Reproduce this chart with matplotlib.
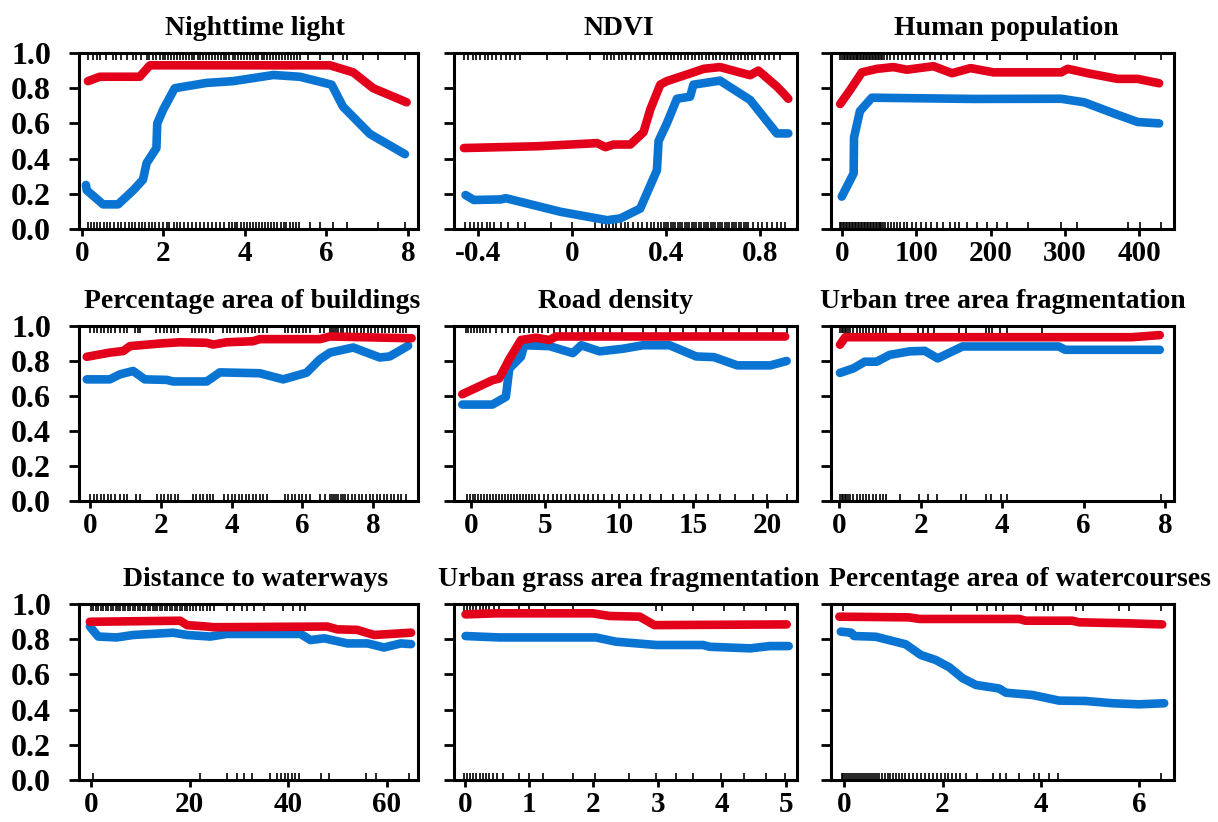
import matplotlib
matplotlib.use("Agg")
import matplotlib.pyplot as plt

plt.rcParams['font.family'] = ['Liberation Serif', 'DejaVu Serif']
plt.rcParams['font.weight'] = 'bold'

RED = '#E3001A'
BLUE = '#0A74D3'

titles = ["Nighttime light", "NDVI", "Human population",
          "Percentage area of buildings", "Road density", "Urban tree area fragmentation",
          "Distance to waterways", "Urban grass area fragmentation", "Percentage area of watercourses"]
title_x = [0.52, 0.48, 0.51, 0.51, 0.47, 0.5, 0.52, 0.51, 0.55]

# ---- Panel 1: Nighttime light
p1_red_x = [0.15, 0.44, 1.42, 1.67, 6.09, 6.66, 7.15, 7.97]
p1_red_y = [0.84, 0.865, 0.865, 0.93, 0.93, 0.89, 0.80, 0.72]
p1_blue_x = [0.1, 0.12, 0.52, 0.89, 1.26, 1.5, 1.59, 1.83, 1.85, 2.0, 2.28, 3.06, 3.71, 4.7, 5.35, 6.13, 6.41, 7.07, 7.93]
p1_blue_y = [0.25, 0.22, 0.14, 0.14, 0.22, 0.28, 0.375, 0.46, 0.60, 0.68, 0.80, 0.83, 0.84, 0.875, 0.865, 0.82, 0.695, 0.54, 0.425]
p1_rug_top = [0.16, 0.28, 0.36, 0.44, 0.6, 0.77, 0.85, 0.97, 1.1, 1.26, 1.34, 1.46, 1.59, 1.66, 1.75, 1.82, 1.91, 1.98,
              2.05, 2.12, 2.2, 2.27, 2.33, 2.41, 2.48, 2.55, 2.63, 2.7, 2.76, 2.84, 2.91, 2.97, 3.05, 3.12, 3.2, 3.26,
              3.33, 3.41, 3.48, 3.55, 3.62, 3.7, 3.77, 3.83, 3.91, 3.98, 4.05, 4.12, 4.2, 4.27, 4.33, 4.41, 4.48, 4.55,
              4.62, 4.7, 4.77, 4.84, 4.91, 4.98, 5.06, 5.13, 5.2, 5.27, 5.35, 5.55, 5.84, 6.17, 6.41, 6.5, 6.9, 7.27, 7.92]
p1_rug_bot = [0.15, 0.22, 0.3, 0.38, 0.45, 0.55, 0.62, 0.7, 0.8, 0.88, 0.97, 1.05, 1.15, 1.22, 1.3, 1.4, 1.48, 1.55,
              1.65, 1.72, 1.8, 1.9, 1.98, 2.08, 2.15, 2.25, 2.33, 2.42, 2.5, 2.6, 2.7, 2.8, 2.9, 3.0, 3.1, 3.2, 3.3,
              3.4, 3.5, 3.6, 3.68, 3.75, 3.82, 3.9, 3.97, 4.05, 4.12, 4.2, 4.27, 4.35, 4.42, 4.5, 4.57, 4.65, 4.72,
              4.8, 4.88, 4.95, 5.02, 5.1, 5.18, 5.25, 5.33, 5.6, 5.84, 6.17, 6.5, 7.27, 7.92]

# ---- Panel 2: NDVI
p2_red_x = [-0.458, -0.147, 0.108, 0.143, 0.178, 0.249, 0.305, 0.334, 0.376, 0.404, 0.517, 0.56, 0.63, 0.758, 0.793, 0.871, 0.90, 0.92]
p2_red_y = [0.46, 0.47, 0.488, 0.465, 0.48, 0.48, 0.55, 0.68, 0.82, 0.84, 0.89, 0.91, 0.92, 0.874, 0.90, 0.81, 0.77, 0.74]
p2_blue_x = [-0.451, -0.416, -0.302, -0.28, -0.048, 0.15, 0.206, 0.291, 0.362, 0.369, 0.404, 0.447, 0.503, 0.517, 0.63, 0.758, 0.871, 0.92]
p2_blue_y = [0.193, 0.165, 0.168, 0.175, 0.098, 0.05, 0.06, 0.116, 0.334, 0.50, 0.60, 0.74, 0.752, 0.82, 0.843, 0.733, 0.543, 0.543]
p2_rug_top = [-0.458, -0.44, -0.42, -0.405, -0.39, -0.37, -0.355, -0.34, -0.32, -0.3, -0.28, -0.26, -0.24, -0.218,
              -0.104, -0.02, 0.079, 0.136, 0.15, 0.165, 0.18, 0.2, 0.215, 0.23, 0.25, 0.27, 0.29, 0.305, 0.33, 0.345,
              0.36, 0.375, 0.39, 0.405, 0.42, 0.435, 0.45, 0.465, 0.48, 0.495, 0.51, 0.525, 0.54, 0.555, 0.57, 0.585,
              0.6, 0.615, 0.63, 0.645, 0.66, 0.675, 0.69, 0.705, 0.72, 0.735, 0.75, 0.765, 0.78, 0.8, 0.82, 0.84, 0.86, 0.885]
p2_rug_bot = [-0.455, -0.43, -0.415, -0.4, -0.38, -0.36, -0.345, -0.33, -0.3, -0.27, -0.23, -0.2, -0.09, 0.0, 0.1,
              0.13, 0.145, 0.16, 0.175, 0.19, 0.21, 0.225, 0.24, 0.26, 0.28, 0.3, 0.32, 0.335, 0.35, 0.365, 0.38, 0.39,
              0.4, 0.41, 0.42, 0.43, 0.44, 0.45, 0.46, 0.47, 0.48, 0.49, 0.5, 0.51, 0.52, 0.53, 0.54, 0.55, 0.56, 0.57,
              0.58, 0.59, 0.6, 0.61, 0.62, 0.63, 0.64, 0.65, 0.66, 0.67, 0.68, 0.69, 0.7, 0.71, 0.72, 0.73, 0.74, 0.75,
              0.77, 0.79, 0.81, 0.83, 0.85, 0.87, 0.89, 0.905]

# ---- Panel 3: Human population
p3_red_x = [-2.7, 10.8, 26.6, 47, 69, 87, 123, 148, 173, 204, 295, 304, 331, 371, 398, 427]
p3_red_y = [0.71, 0.79, 0.89, 0.91, 0.92, 0.905, 0.925, 0.885, 0.914, 0.89, 0.89, 0.91, 0.885, 0.853, 0.853, 0.828]
p3_blue_x = [-0.5, 15.5, 16.0, 24, 40, 177, 295, 326, 367, 398, 427]
p3_blue_y = [0.184, 0.316, 0.52, 0.67, 0.746, 0.739, 0.74, 0.72, 0.655, 0.608, 0.60]
p3_rug_top = [-3, 0, 2, 4, 6, 8, 10, 12, 14, 16, 18, 20, 22, 24, 26, 28, 30, 32, 34, 36, 38, 40, 42, 44, 46, 48, 50,
              52, 54, 56, 60, 64, 70, 75, 80, 86, 92, 98, 104, 110, 118, 125, 133, 141, 150, 164, 177, 195, 213, 249,
              295, 312, 316, 340, 394, 430]
p3_rug_bot = [-3, -1, 1, 3, 5, 7, 9, 11, 13, 15, 17, 19, 21, 23, 25, 27, 29, 31, 33, 35, 37, 39, 41, 43, 45, 47, 49,
              51, 53, 55, 58, 62, 66, 70, 74, 78, 83, 88, 94, 100, 106, 113, 120, 128, 136, 145, 152, 158, 168, 182,
              195, 208, 222, 250, 295, 317, 385, 401, 430]

# ---- Panel 4: Percentage area of buildings
p4_red_x = [-0.09, 0.56, 0.94, 1.13, 1.98, 2.54, 3.3, 3.48, 3.86, 4.61, 4.8, 6.5, 6.78, 9.09]
p4_red_y = [0.824, 0.848, 0.857, 0.885, 0.90, 0.907, 0.904, 0.894, 0.907, 0.913, 0.925, 0.925, 0.94, 0.93]
p4_blue_x = [-0.09, 0.56, 0.85, 1.22, 1.55, 2.17, 2.35, 3.3, 3.67, 4.8, 5.46, 6.12, 6.5, 6.78, 7.44, 8.19, 8.47, 8.99]
p4_blue_y = [0.695, 0.695, 0.724, 0.743, 0.695, 0.692, 0.683, 0.683, 0.735, 0.73, 0.695, 0.733, 0.81, 0.848, 0.877, 0.82, 0.826, 0.887]
p4_rug_top = [0.0, 0.1, 0.2, 0.3, 0.4, 0.5, 0.6, 0.7, 0.85, 0.95, 1.04, 1.27, 1.35, 1.41, 1.88, 1.98, 2.08, 2.18,
              2.28, 2.38, 2.5, 2.87, 2.97, 3.07, 3.17, 3.27, 3.38, 3.49, 3.77, 3.87, 3.97, 4.07, 4.17, 4.27, 4.37,
              4.47, 4.57, 4.67, 4.77, 4.89, 4.99, 5.51, 5.61, 5.71, 5.81, 5.91, 6.01, 6.11, 6.21, 6.5, 6.6, 6.78,
              6.84, 6.9, 6.96, 7.02, 7.08, 7.15, 7.25, 7.35, 7.45, 7.55, 7.65, 7.75, 7.85, 7.95, 8.05, 8.15, 8.25,
              8.35, 8.45, 8.55, 8.65, 8.75, 8.85, 8.94]
p4_rug_bot = [0.0, 0.1, 0.2, 0.3, 0.4, 0.5, 0.6, 0.72, 0.85, 0.95, 1.04, 1.3, 1.41, 1.9, 2.0, 2.1, 2.2, 2.3, 2.4,
              2.5, 2.9, 3.0, 3.1, 3.2, 3.3, 3.4, 3.49, 3.8, 3.9, 4.0, 4.1, 4.2, 4.3, 4.4, 4.5, 4.6, 4.7, 4.8, 4.9,
              4.99, 5.5, 5.6, 5.7, 5.8, 5.9, 6.0, 6.1, 6.21, 6.5, 6.65, 6.78, 6.84, 6.9, 6.96, 7.02, 7.08, 7.14,
              7.2, 7.3, 7.4, 7.5, 7.6, 7.7, 7.8, 7.9, 8.0, 8.1, 8.2, 8.3, 8.4, 8.5, 8.6, 8.7, 8.8, 8.94]

# ---- Panel 5: Road density
p5_red_x = [-0.59, 1.44, 1.9, 2.58, 3.37, 4.39, 5.29, 5.74, 21.2]
p5_red_y = [0.61, 0.69, 0.70, 0.81, 0.92, 0.933, 0.92, 0.94, 0.94]
p5_blue_x = [-0.59, 1.44, 2.35, 2.58, 3.37, 3.59, 5.29, 6.87, 7.44, 8.68, 10.25, 11.6, 13.4, 15.2, 16.4, 17.97, 20.2, 21.3]
p5_blue_y = [0.551, 0.551, 0.595, 0.757, 0.824, 0.89, 0.885, 0.845, 0.89, 0.855, 0.87, 0.89, 0.89, 0.826, 0.822, 0.775, 0.775, 0.80]
p5_rug_top = [-0.36, -0.2, 0.0, 0.2, 0.4, 0.6, 0.8, 1.0, 1.3, 1.7, 2.1, 2.5, 2.9, 3.3, 3.6, 3.9, 4.2, 4.5, 4.8,
              5.2, 5.6, 6.0, 6.4, 6.8, 7.2, 7.6, 8.0, 8.4, 8.9, 9.4, 10.2, 11.6, 12.5, 13.4, 14.3, 15.2, 16.1,
              17.0, 18.1, 19.3, 20.4, 21.3]
p5_rug_bot = [-0.3, -0.1, 0.1, 0.3, 0.5, 0.7, 0.9, 1.1, 1.3, 1.5, 1.7, 1.9, 2.1, 2.3, 2.5, 2.7, 2.9, 3.1, 3.3,
              3.5, 3.7, 3.9, 4.1, 4.3, 4.6, 4.9, 5.2, 5.5, 5.8, 6.1, 6.4, 6.7, 7.0, 7.3, 7.6, 7.9, 8.2, 8.6, 9.0,
              9.5, 10.0, 10.5, 11.0, 11.5, 12.1, 12.8, 13.6, 14.4, 15.2, 16.0, 16.8, 17.8, 19.0, 20.0, 21.3]

# ---- Panel 6: Urban tree area fragmentation
p6_red_x = [0.02, 0.15, 7.18, 7.87]
p6_red_y = [0.893, 0.936, 0.936, 0.948]
p6_blue_x = [0.02, 0.35, 0.63, 0.92, 1.24, 1.73, 2.1, 2.42, 3.03, 5.39, 5.55, 7.87]
p6_blue_y = [0.732, 0.758, 0.796, 0.796, 0.835, 0.855, 0.858, 0.815, 0.883, 0.883, 0.864, 0.864]
p6_rug_top = [0.02, 0.06, 0.1, 0.14, 0.18, 0.22, 0.27, 0.35, 0.43, 0.5, 0.58, 0.66, 0.74, 0.82, 0.9, 1.0, 1.08,
              1.16, 1.49, 1.93, 2.06, 2.18, 2.34, 2.95, 3.11, 3.6, 3.68, 3.76, 3.95, 4.13, 4.98]
p6_rug_bot = [0.02, 0.06, 0.1, 0.14, 0.18, 0.22, 0.27, 0.35, 0.43, 0.5, 0.58, 0.66, 0.74, 0.82, 0.9, 1.0, 1.08,
              1.16, 1.49, 1.97, 2.18, 2.39, 3.0, 3.11, 3.6, 3.72, 3.98, 4.13, 7.9]

# ---- Panel 7: Distance to waterways
p7_red_x = [-0.2, 18.1, 19.5, 23.5, 24.8, 47.9, 49.96, 54, 57.4, 64.9]
p7_red_y = [0.899, 0.905, 0.88, 0.872, 0.868, 0.872, 0.856, 0.853, 0.824, 0.837]
p7_blue_x = [-0.2, 1.5, 5.2, 8.6, 16.7, 19.5, 24.2, 27.6, 42.5, 44.5, 47.3, 52, 56.1, 59.4, 62.8, 64.9]
p7_blue_y = [0.872, 0.815, 0.81, 0.824, 0.837, 0.824, 0.815, 0.83, 0.83, 0.795, 0.805, 0.776, 0.776, 0.753, 0.776, 0.772]
p7_rug_top = [0.1, 0.5, 1.0, 1.5, 2.0, 2.5, 3.0, 3.5, 4.0, 4.5, 5.0, 5.5, 6.0, 6.5, 7.0, 7.5, 8.0, 8.5, 9.0, 9.5,
              10.0, 10.5, 11.0, 11.5, 12.0, 12.5, 13.0, 13.5, 14.0, 14.5, 15.0, 15.5, 16.0, 16.5, 17.0, 17.5, 18.0,
              18.5, 19.0, 19.5, 20.0, 20.7, 21.4, 22.1, 22.8, 23.5, 24.2, 24.9, 27.6, 29.0, 30.6, 31.6, 33.0, 35.0,
              39.0, 41.0, 42.3, 43.5]
p7_rug_bot = [0.4, 22.2, 27.6, 29.6, 31.0, 32.6, 36.4, 37.7, 38.5, 39.3, 40.0, 40.7, 41.4, 42.2, 46.6, 48.3, 55.7,
              57.8, 64.5]

# ---- Panel 8: Urban grass area fragmentation
p8_red_x = [0.01, 0.48, 1.99, 2.25, 2.72, 2.95, 5.01]
p8_red_y = [0.941, 0.947, 0.947, 0.932, 0.928, 0.88, 0.884]
p8_blue_x = [0.01, 0.53, 2.04, 2.35, 2.98, 3.71, 3.81, 4.44, 4.75, 5.04]
p8_blue_y = [0.818, 0.81, 0.81, 0.786, 0.767, 0.767, 0.757, 0.748, 0.761, 0.761]
p8_rug_top = [-0.02, 0.03, 0.08, 0.13, 0.18, 0.23, 0.28, 0.33, 0.38, 0.45, 0.53, 0.84, 1.0, 1.24, 1.68, 2.97,
              3.07, 3.55, 4.04, 4.35, 4.69, 4.99]
p8_rug_bot = [-0.02, 0.03, 0.08, 0.13, 0.18, 0.23, 0.28, 0.33, 0.38, 0.43, 0.5, 0.6, 0.84, 1.0, 1.21, 1.68, 2.02,
              2.56, 2.97, 3.29, 3.55, 3.99, 4.35, 4.69, 4.99]

# ---- Panel 9: Percentage area of watercourses
p9_red_x = [-0.1, 1.32, 1.53, 3.56, 3.69, 4.64, 4.78, 5.8, 6.47]
p9_red_y = [0.928, 0.924, 0.915, 0.915, 0.905, 0.905, 0.896, 0.89, 0.884]
p9_blue_x = [-0.07, 0.14, 0.2, 0.64, 1.25, 1.56, 1.86, 2.14, 2.41, 2.68, 3.15, 3.29, 3.83, 4.37, 4.91, 5.46, 6.0, 6.51]
p9_blue_y = [0.843, 0.837, 0.818, 0.814, 0.771, 0.71, 0.682, 0.64, 0.578, 0.54, 0.52, 0.496, 0.483, 0.451, 0.449, 0.436, 0.43, 0.436]
p9_rug_top = [-0.03, 2.17, 2.71, 2.91, 3.08, 3.23, 3.59, 3.9, 4.07, 4.15, 4.24, 4.71, 4.85, 5.59, 5.79, 6.44]
p9_rug_bot = [-0.05, -0.02, 0.02, 0.06, 0.1, 0.14, 0.18, 0.22, 0.26, 0.3, 0.34, 0.38, 0.42, 0.46, 0.5, 0.54, 0.58,
              0.62, 0.66, 0.7, 0.76, 0.82, 0.88, 0.94, 1.0, 1.06, 1.12, 1.18, 1.24, 1.32, 1.4, 1.48, 1.56, 1.64,
              1.72, 1.8, 1.88, 1.96, 2.04, 2.12, 2.2, 2.28, 2.36, 2.47, 2.71, 3.02, 3.16, 3.29, 3.56, 3.86, 3.96,
              4.17, 4.34, 6.44]

xticks = [[0, 2, 4, 6, 8], [-0.4, 0, 0.4, 0.8], [0, 100, 200, 300, 400],
          [0, 2, 4, 6, 8], [0, 5, 10, 15, 20], [0, 2, 4, 6, 8],
          [0, 20, 40, 60], [0, 1, 2, 3, 4, 5], [0, 2, 4, 6]]
xticklabels = [["0", "2", "4", "6", "8"], ["-0.4", "0", "0.4", "0.8"], ["0", "100", "200", "300", "400"],
               ["0", "2", "4", "6", "8"], ["0", "5", "10", "15", "20"], ["0", "2", "4", "6", "8"],
               ["0", "20", "40", "60"], ["0", "1", "2", "3", "4", "5"], ["0", "2", "4", "6"]]
yticks = [0.0, 0.2, 0.4, 0.6, 0.8, 1.0]
yticklabels = ["0.0", "0.2", "0.4", "0.6", "0.8", "1.0"]
xlims = [(-0.07, 8.25), (-0.50, 0.957), (-15, 447),
         (-0.31, 9.27), (-1.15, 22.0), (-0.2, 8.22),
         (-2.4, 66.3), (-0.17, 5.17), (-0.27, 6.71)]

panels = [
    (p1_red_x, p1_red_y, p1_blue_x, p1_blue_y, p1_rug_top, p1_rug_bot),
    (p2_red_x, p2_red_y, p2_blue_x, p2_blue_y, p2_rug_top, p2_rug_bot),
    (p3_red_x, p3_red_y, p3_blue_x, p3_blue_y, p3_rug_top, p3_rug_bot),
    (p4_red_x, p4_red_y, p4_blue_x, p4_blue_y, p4_rug_top, p4_rug_bot),
    (p5_red_x, p5_red_y, p5_blue_x, p5_blue_y, p5_rug_top, p5_rug_bot),
    (p6_red_x, p6_red_y, p6_blue_x, p6_blue_y, p6_rug_top, p6_rug_bot),
    (p7_red_x, p7_red_y, p7_blue_x, p7_blue_y, p7_rug_top, p7_rug_bot),
    (p8_red_x, p8_red_y, p8_blue_x, p8_blue_y, p8_rug_top, p8_rug_bot),
    (p9_red_x, p9_red_y, p9_blue_x, p9_blue_y, p9_rug_top, p9_rug_bot),
]

W, H = 1218, 822
fig = plt.figure(figsize=(W / 100, H / 100), dpi=100)
fig.patch.set_facecolor('white')

col_left = [79, 454, 831]
col_w = [339, 343, 343]
row_top = [53, 326, 604]
row_h = [176, 175, 176]

for i, (rx, ry, bx, by, rt, rb) in enumerate(panels):
    r, c = divmod(i, 3)
    ax = fig.add_axes([col_left[c] / W, 1 - (row_top[r] + row_h[r]) / H, col_w[c] / W, row_h[r] / H])
    ax.plot(bx, by, color=BLUE, lw=6.2, solid_capstyle='round', solid_joinstyle='round', zorder=3)
    ax.plot(rx, ry, color=RED, lw=6.2, solid_capstyle='round', solid_joinstyle='round', zorder=4)
    tr = ax.get_xaxis_transform()
    ax.vlines(rt, 0.96, 1.0, transform=tr, color='black', lw=1.2, zorder=2)
    ax.vlines(rb, 0.0, 0.04, transform=tr, color='black', lw=1.2, zorder=2)
    ax.set_xlim(*xlims[i])
    ax.set_ylim(0, 1)
    ax.set_xticks(xticks[i])
    ax.set_xticklabels(xticklabels[i])
    ax.set_yticks(yticks)
    if c == 0:
        ax.set_yticklabels(yticklabels)
    else:
        ax.set_yticklabels([])
    for s in ax.spines.values():
        s.set_linewidth(2.2)
    ax.tick_params(axis='y', length=7, width=2, pad=13, labelsize=23)
    ax.tick_params(axis='x', length=5, width=2, pad=3, labelsize=21)
    for lab in ax.get_xticklabels() + ax.get_yticklabels():
        lab.set_fontweight('bold')
    ax.set_title(titles[i], fontsize=20, fontweight='bold', pad=13, x=title_x[i])

fig.savefig('out.png', dpi=100, facecolor='white')
